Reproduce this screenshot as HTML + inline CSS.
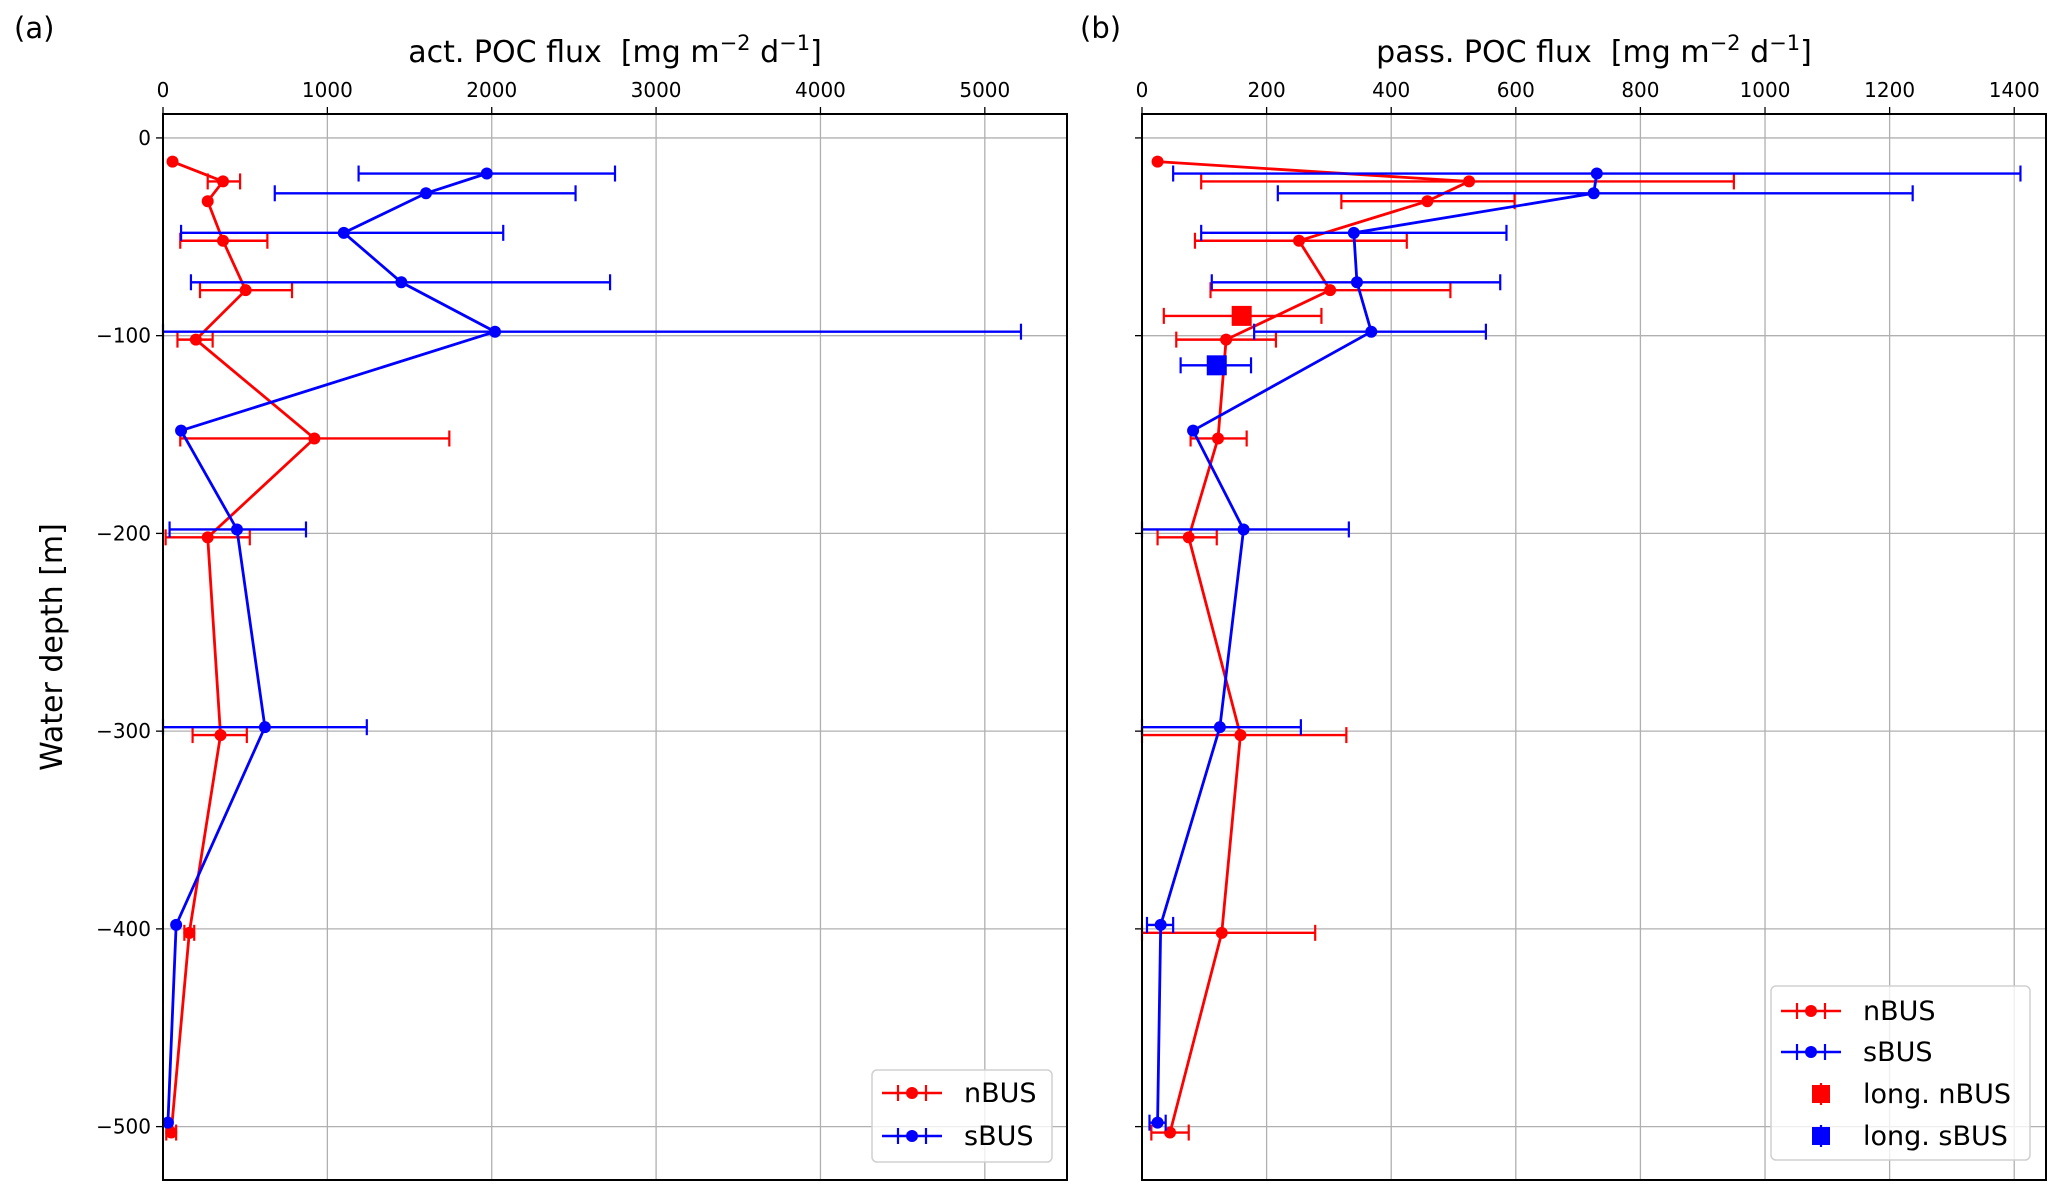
<!DOCTYPE html>
<html><head><meta charset="utf-8"><style>
body{margin:0;background:#fff}
svg{display:block;font-family:"DejaVu Sans","Liberation Sans",sans-serif}
</style></head><body>
<svg id="fig" width="2067" height="1194" viewBox="0 0 2067 1194" xmlns="http://www.w3.org/2000/svg">
<rect width="2067" height="1194" fill="#fff"/>
<g id="pa"></g>
<g id="pb"></g>
</svg>
<script>
// ---- Panel (a) active POC flux ----
const aRedDepth = [-12, -22, -32, -52, -77, -102, -152, -202, -302, -402, -503];
const aRedVal   = [58, 365, 272, 365, 503, 200, 921, 272, 350, 160, 50];
const aRedLo    = [null, 272, null, 105, 225, 88, 105, 16, 180, 130, 20];
const aRedHi    = [null, 469, null, 635, 785, 302, 1742, 528, 510, 190, 80];
const aBlueDepth = [-18, -28, -48, -73, -98, -148, -198, -298, -398, -498];
const aBlueVal   = [1970, 1600, 1100, 1450, 2020, 110, 450, 620, 80, 30];
const aBlueLo    = [1190, 680, 110, 170, 0, null, 40, 0, null, null];
const aBlueHi    = [2750, 2510, 2070, 2720, 5220, null, 870, 1240, null, null];
const aXTicks = [0, 1000, 2000, 3000, 4000, 5000];
// ---- Panel (b) passive POC flux ----
const bRedDepth = [-12, -22, -32, -52, -77, -102, -152, -202, -302, -402, -503];
const bRedVal   = [25, 525, 458, 252, 302, 135, 122, 75, 158, 128, 45];
const bRedLo    = [null, 95, 320, 85, 110, 55, 78, 25, 0, 0, 15];
const bRedHi    = [null, 950, 598, 425, 495, 215, 168, 120, 328, 278, 75];
const bBlueDepth = [-18, -28, -48, -73, -98, -148, -198, -298, -398, -498];
const bBlueVal   = [730, 725, 340, 345, 368, 82, 163, 125, 30, 25];
const bBlueLo    = [50, 218, 95, 112, 180, null, 0, 0, 8, 12];
const bBlueHi    = [1410, 1237, 585, 575, 552, null, 332, 255, 50, 38];
const bLongNDepth = [-90], bLongNVal = [160], bLongNLo = [35], bLongNHi = [288];
const bLongSDepth = [-115], bLongSVal = [120], bLongSLo = [62], bLongSHi = [175];
const bXTicks = [0, 200, 400, 600, 800, 1000, 1200, 1400];
const yTicks = [0, -100, -200, -300, -400, -500];

const NS = "http://www.w3.org/2000/svg";
function mk(parent, tag, attrs, txt){const e=document.createElementNS(NS,tag);for(const k in attrs)e.setAttribute(k,attrs[k]);if(txt!==undefined)e.textContent=txt;parent.appendChild(e);return e;}

const yTop=114, yBot=1180, yMax=12.1, yMin=-527;
function Y(d){return yTop+(yMax-d)/(yMax-yMin)*(yBot-yTop);}

function panel(g, L, R, xMax, xTicks, showYLabels, title, letter, letterX){
  const X=v=>L+v/xMax*(R-L);
  for(const t of xTicks){const l=mk(g,'line',{x1:X(t),x2:X(t),y1:yTop,y2:yBot,stroke:'#b0b0b0','stroke-width':1.3});
    
    }
  for(const t of yTicks){const l=mk(g,'line',{x1:L,x2:R,y1:Y(t),y2:Y(t),stroke:'#b0b0b0','stroke-width':1.3});
    
    }
  for(const t of xTicks){mk(g,'line',{x1:X(t),x2:X(t),y1:yTop,y2:yTop-7,stroke:'#000','stroke-width':1.3});
    const tx=mk(g,'text',{x:X(t),y:yTop-17,'font-size':20,'text-anchor':'middle'},String(t));
    
    }
  for(const t of yTicks){mk(g,'line',{x1:L,x2:L-7,y1:Y(t),y2:Y(t),stroke:'#000','stroke-width':1.3});
    if(showYLabels){const tx=mk(g,'text',{x:L-12,y:Y(t)+7,'font-size':20,'text-anchor':'end'},t<0?'\u2212'+(-t):String(t));
      
      }}
  const ttl=mk(g,'text',{x:(L+R)/2,y:62,'font-size':30,'text-anchor':'middle'});
  
  
  mk(ttl,'tspan',{},title+'\u00a0 [mg m');
  mk(ttl,'tspan',{dy:-12,'font-size':21},'\u22122');
  mk(ttl,'tspan',{dy:12},'\u00a0d');
  mk(ttl,'tspan',{dy:-12,'font-size':21},'\u22121');
  mk(ttl,'tspan',{dy:12},']');
  const lt=mk(g,'text',{x:letterX,y:38,'font-size':29},letter);
  
  
  return X;
}
function series(g,X,depth,val,lo,hi,color,name){
  const sg=mk(g,'g',{});
  
  
  for(let i=0;i<depth.length;i++){ if(lo[i]===null)continue; const y=Y(depth[i]);
    mk(sg,'line',{x1:X(lo[i]),x2:X(hi[i]),y1:y,y2:y,stroke:color,'stroke-width':2.4});
    mk(sg,'line',{x1:X(lo[i]),x2:X(lo[i]),y1:y-8,y2:y+8,stroke:color,'stroke-width':2.2});
    mk(sg,'line',{x1:X(hi[i]),x2:X(hi[i]),y1:y-8,y2:y+8,stroke:color,'stroke-width':2.2});}
  const pts=depth.map((d,i)=>X(val[i])+','+Y(d)).join(' ');
  mk(sg,'polyline',{points:pts,fill:'none',stroke:color,'stroke-width':2.8});
  for(let i=0;i<depth.length;i++){const c=mk(sg,'circle',{cx:X(val[i]),cy:Y(depth[i]),r:6,fill:color});
    
    }
}
function square(g,X,depth,val,lo,hi,color,name){
  const sg=mk(g,'g',{});
  
  
  for(let i=0;i<depth.length;i++){const y=Y(depth[i]);
    mk(sg,'line',{x1:X(lo[i]),x2:X(hi[i]),y1:y,y2:y,stroke:color,'stroke-width':2.4});
    mk(sg,'line',{x1:X(lo[i]),x2:X(lo[i]),y1:y-8,y2:y+8,stroke:color,'stroke-width':2.2});
    mk(sg,'line',{x1:X(hi[i]),x2:X(hi[i]),y1:y-8,y2:y+8,stroke:color,'stroke-width':2.2});
    mk(sg,'rect',{x:X(val[i])-10,y:y-10,width:20,height:20,fill:color});}
}
function frame(g,L,R){const f=mk(g,'rect',{x:L,y:yTop,width:R-L,height:yBot-yTop,fill:'none',stroke:'#000','stroke-width':2});
  
  }
function legend(g,x,y,w,h,items){
  const lg=mk(g,'g',{});
  
  
  mk(lg,'rect',{x:x,y:y,width:w,height:h,rx:5,fill:'#fff','fill-opacity':0.8,stroke:'#d0d0d0','stroke-width':1.5});
  items.forEach(it=>{const e=mk(lg,'g',{});
    
    
    const cy=it.y, lx=x+10;
    if(it.sq){mk(e,'line',{x1:lx+40,x2:lx+40,y1:cy-11,y2:cy+11,stroke:it.c,'stroke-width':2.2});
      mk(e,'rect',{x:lx+31,y:cy-9,width:18,height:18,fill:it.c});}
    else{mk(e,'line',{x1:lx,x2:lx+60,y1:cy,y2:cy,stroke:it.c,'stroke-width':2.6});
      mk(e,'line',{x1:lx+16,x2:lx+16,y1:cy-8,y2:cy+8,stroke:it.c,'stroke-width':2.2});
      mk(e,'line',{x1:lx+44,x2:lx+44,y1:cy-8,y2:cy+8,stroke:it.c,'stroke-width':2.2});
      mk(e,'circle',{cx:lx+30,cy:cy,r:6,fill:it.c});}
    mk(e,'text',{x:lx+it.tx,y:cy+9,'font-size':27},it.t);});
}
const pa=document.getElementById('pa'), pb=document.getElementById('pb');
const Xa=panel(pa,163,1067,5500,aXTicks,true,'act. POC flux','(a)',14);
series(pa,Xa,aRedDepth,aRedVal,aRedLo,aRedHi,'#ff0000','series-nBUS');
series(pa,Xa,aBlueDepth,aBlueVal,aBlueLo,aBlueHi,'#0000ff','series-sBUS');
frame(pa,163,1067);
legend(pa,872,1070,180,92,[{y:1093,c:'#ff0000',t:'nBUS',tx:82},{y:1136,c:'#0000ff',t:'sBUS',tx:82}]);
const Xb=panel(pb,1142,2046,1451,bXTicks,false,'pass. POC flux','(b)',1080);
series(pb,Xb,bRedDepth,bRedVal,bRedLo,bRedHi,'#ff0000','series-nBUS');
series(pb,Xb,bBlueDepth,bBlueVal,bBlueLo,bBlueHi,'#0000ff','series-sBUS');
square(pb,Xb,bLongNDepth,bLongNVal,bLongNLo,bLongNHi,'#ff0000','series-long-nBUS');
square(pb,Xb,bLongSDepth,bLongSVal,bLongSLo,bLongSHi,'#0000ff','series-long-sBUS');
frame(pb,1142,2046);
legend(pb,1771,986,259,174,[{y:1011,c:'#ff0000',t:'nBUS',tx:82},{y:1052,c:'#0000ff',t:'sBUS',tx:82},
  {y:1094,c:'#ff0000',t:'long. nBUS',tx:82,sq:true},{y:1136,c:'#0000ff',t:'long. sBUS',tx:82,sq:true}]);
const yl=mk(pa,'text',{x:0,y:0,'font-size':30,'text-anchor':'middle',transform:'translate(62,647) rotate(-90)'},'Water depth [m]');


</script>
</body></html>
